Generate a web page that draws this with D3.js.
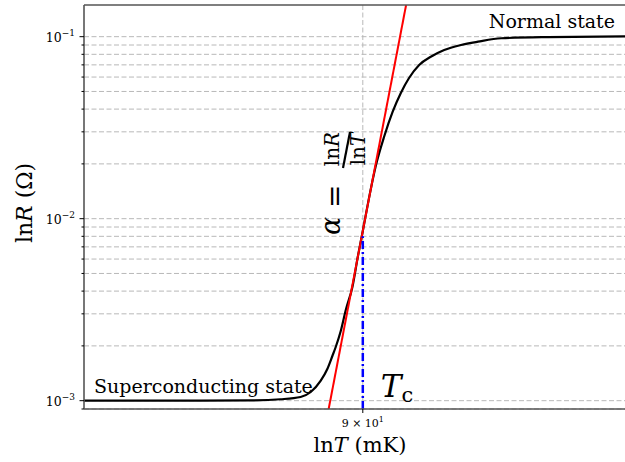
<!DOCTYPE html>
<html><head><meta charset="utf-8">
<script src="https://cdn.jsdelivr.net/npm/d3@7"></script>
<style>body{margin:0;background:#fff} svg{display:block} text{font-family:"DejaVu Serif",serif;fill:#000}</style>
</head><body>
<svg id="c" width="625" height="462"></svg>
<script>
// ---- data ----
const temperatureMK = [82.0, 85.25, 86.68, 87.56, 88.15, 88.45, 88.74, 88.94, 89.09, 89.19, 89.34, 89.49, 89.69, 89.85, 90.0, 90.18, 90.39, 90.65, 90.90, 91.15, 91.40, 91.71, 92.08, 92.48, 93.00, 93.53, 94.26, 95.75, 98.3];
const resistanceOhm = [0.0010, 0.0010, 0.001003, 0.001018, 0.001048, 0.001116, 0.001283, 0.001493, 0.00176, 0.001972, 0.002415, 0.00315, 0.004229, 0.006176, 0.00856, 0.01281, 0.01948, 0.02847, 0.03858, 0.04905, 0.0593, 0.06991, 0.07784, 0.0845, 0.09003, 0.09387, 0.0980, 0.0995, 0.1003];
const tangentT = [88.98, 91.31];
const tangentR = [0.0009, 0.1493];
const criticalT = 90;
const criticalR = 0.008;
const xDomain = [82, 98.3];
const yDomain = [0.0009, 0.1493];
const yMajorTicks = [1e-3, 1e-2, 1e-1];
const yTickExponents = ["−3", "−2", "−1"];
const xTicks = [90];
const xTickMantissa = ["9 × 10"];
const xTickExponent = ["1"];

// ---- layout ----
const L = 84, T = 5, R = 627, B = 409;
const svg = d3.select("#c");
const x = d3.scaleLog().domain(xDomain).range([L, R]);
const y = d3.scaleLog().domain(yDomain).range([B, T]);

svg.append("defs").append("clipPath").attr("id", "clip")
  .append("rect").attr("x", L).attr("y", T).attr("width", R - L).attr("height", B - T);

// gridlines
const gridY = y.ticks().filter(v => v >= yDomain[0] * 0.999 && v <= yDomain[1]);
svg.append("g").selectAll("line").data(gridY).join("line")
  .attr("x1", L).attr("x2", R).attr("y1", d => y(d)).attr("y2", d => y(d))
  .attr("stroke", "#b8b8b8").attr("stroke-width", 1).attr("stroke-dasharray", "5,2.5");
svg.append("g").selectAll("line").data(xTicks).join("line")
  .attr("x1", d => x(d)).attr("x2", d => x(d)).attr("y1", T).attr("y2", B)
  .attr("stroke", "#b8b8b8").attr("stroke-width", 1).attr("stroke-dasharray", "5,2.5");

const plot = svg.append("g").attr("clip-path", "url(#clip)");
// curve
const pts = temperatureMK.map((t, i) => [t, resistanceOhm[i]]);
plot.append("path").datum(pts)
  .attr("d", d3.line().x(d => x(d[0])).y(d => y(d[1])).curve(d3.curveMonotoneX))
  .attr("fill", "none").attr("stroke", "#000").attr("stroke-width", 2.2);
// tangent
plot.append("path").datum(tangentT.map((t, i) => [t, tangentR[i]]))
  .attr("d", d3.line().x(d => x(d[0])).y(d => y(d[1])))
  .attr("fill", "none").attr("stroke", "#ff0000").attr("stroke-width", 2);
// Tc line
plot.append("line")
  .attr("x1", x(criticalT)).attr("x2", x(criticalT)).attr("y1", y(yDomain[0])).attr("y2", y(criticalR))
  .attr("stroke", "#0000ff").attr("stroke-width", 2.5).attr("stroke-dasharray", "8,3,2,3");

// spines
svg.append("line").attr("x1", L).attr("x2", L).attr("y1", T).attr("y2", B).attr("stroke", "#555").attr("stroke-width", 1.6);
svg.append("line").attr("x1", L).attr("x2", R).attr("y1", T).attr("y2", T).attr("stroke", "#555").attr("stroke-width", 1.6);
svg.append("line").attr("x1", L).attr("x2", R).attr("y1", B).attr("y2", B).attr("stroke", "#555").attr("stroke-width", 1.6);

// y ticks
svg.append("g").selectAll("line").data(gridY).join("line")
  .attr("x1", d => yMajorTicks.includes(d) ? L - 4.5 : L - 2.5).attr("x2", L)
  .attr("y1", d => y(d)).attr("y2", d => y(d)).attr("stroke", "#000").attr("stroke-width", 1);
const yl = svg.append("g").selectAll("text").data(yMajorTicks).join("text")
  .attr("x", L - 9).attr("y", d => y(d) + 5).attr("text-anchor", "end").attr("font-size", 12.5);
yl.append("tspan").text("10");
yl.append("tspan").attr("dy", -6).attr("font-size", 9).text((d, i) => yTickExponents[i]);

// x ticks
svg.append("g").selectAll("line").data(xTicks).join("line")
  .attr("x1", d => x(d)).attr("x2", d => x(d)).attr("y1", B).attr("y2", B + 4)
  .attr("stroke", "#000").attr("stroke-width", 1);
const xl = svg.append("g").selectAll("text").data(xTicks).join("text")
  .attr("x", d => x(d)).attr("y", B + 18).attr("text-anchor", "middle").attr("font-size", 11);
xl.append("tspan").text((d, i) => xTickMantissa[i]);
xl.append("tspan").attr("dy", -5).attr("font-size", 8).text((d, i) => xTickExponent[i]);

// axis labels
const xlab = svg.append("text").attr("x", 360).attr("y", 452).attr("text-anchor", "middle").attr("font-size", 21);
xlab.append("tspan").text("ln");
xlab.append("tspan").attr("font-style", "italic").text("T");
xlab.append("tspan").text(" (mK)");
const ylab = svg.append("text").attr("transform", `translate(32,203) rotate(-90)`).attr("text-anchor", "middle").attr("font-size", 22);
ylab.append("tspan").text("ln");
ylab.append("tspan").attr("font-style", "italic").text("R");
ylab.append("tspan").text(" (Ω)");

// annotations
svg.append("text").attr("x", 615).attr("y", 28).attr("text-anchor", "end").attr("font-size", 19).text("Normal state");
svg.append("text").attr("x", 94).attr("y", 393).attr("font-size", 19).text("Superconducting state");
const tc = svg.append("text").attr("x", x(criticalT) + 18).attr("y", 397).attr("font-size", 31);
tc.append("tspan").attr("font-style", "italic").text("T");
tc.append("tspan").attr("dy", 5).attr("font-size", 21).text("c");

// alpha formula, rotated
const ag = svg.append("g").attr("transform", `translate(340,235) rotate(-90)`);
ag.append("text").attr("x", 0).attr("y", 0).attr("font-size", 27).attr("font-style", "italic").text("α");
ag.append("text").attr("x", 27).attr("y", 4).attr("font-size", 28).text("=");
const num = ag.append("text").attr("x", 86).attr("y", -1).attr("text-anchor", "middle").attr("font-size", 20);
num.append("tspan").text("ln"); num.append("tspan").attr("font-style", "italic").text("R");
const den = ag.append("text").attr("x", 86).attr("y", 25).attr("text-anchor", "middle").attr("font-size", 20);
den.append("tspan").text("ln"); den.append("tspan").attr("font-style", "italic").text("T");
ag.append("line").attr("x1", 67).attr("x2", 103).attr("y1", 3).attr("y2", 10).attr("stroke", "#000").attr("stroke-width", 2.2);
</script>
</body></html>
